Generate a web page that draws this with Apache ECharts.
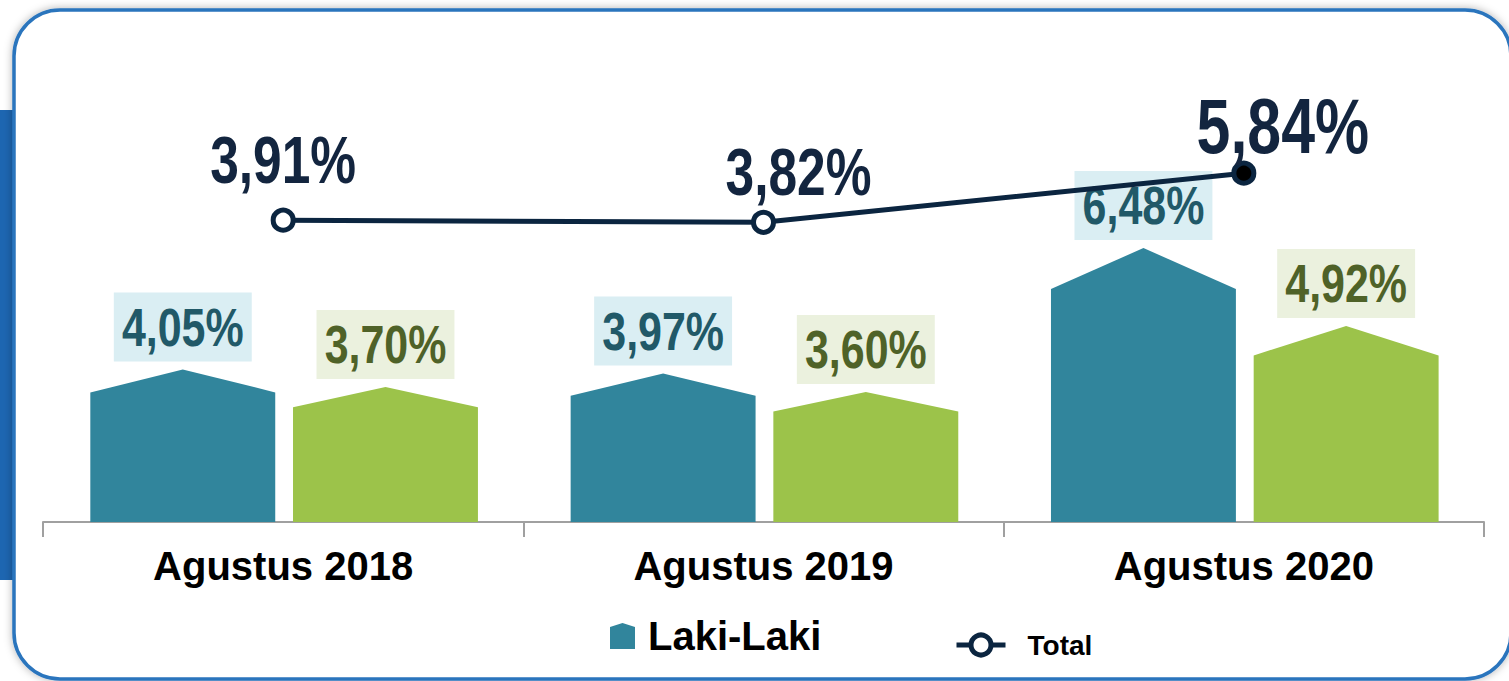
<!DOCTYPE html>
<html>
<head>
<meta charset="utf-8">
<style>
  html, body { margin: 0; padding: 0; background: #fff; }
  #chart { width: 1509px; height: 681px; }
</style>
<script src="https://cdn.jsdelivr.net/npm/echarts@6/dist/echarts.min.js"></script>
</head>
<body>
<div id="chart"></div>
<script>
/* data */
const categories = ['Agustus 2018', 'Agustus 2019', 'Agustus 2020'];
const lakiLaki = [4.05, 3.97, 6.48];
const perempuan = [3.70, 3.60, 4.92];
const total = [3.91, 3.82, 5.84];

const FONT = "'Liberation Sans', Arial, sans-serif";
const Y_MIN = 1;

// angka pakai koma
const fmt = v => v.toFixed(2).replace('.', ',') + '%';

// bentuk rumah: badan + atap (15% tinggi), label dipersempit (mirip Arial Narrow)
function houseItem(offset, color, labelColor, labelBg) {
    return function (params, api) {
        const i = api.value(0);
        const v = api.value(1);
        const top = api.coord([i, v]);
        const base = api.coord([i, Y_MIN]);
        const band = api.size([1, 0])[0];
        const w = band * 0.385;
        const cx = top[0] + band * offset;
        const h = base[1] - top[1];
        const roof = h * 0.15;
        return {
            type: 'group',
            children: [{
                type: 'polygon',
                shape: {
                    points: [
                        [cx - w / 2, base[1]],
                        [cx - w / 2, top[1] + roof],
                        [cx, top[1]],
                        [cx + w / 2, top[1] + roof],
                        [cx + w / 2, base[1]]
                    ]
                },
                style: { fill: color }
            }, {
                type: 'text',
                x: cx,
                y: top[1] - 8,
                scaleX: 0.81,
                style: {
                    text: fmt(v),
                    fill: labelColor,
                    font: 'bold 53px ' + FONT,
                    align: 'center',
                    verticalAlign: 'bottom',
                    backgroundColor: labelBg,
                    padding: [7, 10, 7, 10],
                    lineHeight: 55
                }
            }]
        };
    };
}

// label Total: ukuran & geser per titik
const totalLabelSize = [66, 66, 78];
const totalLabelOffset = [[0, -60], [35, -50], [39, -47]];

function totalLabelItem(params, api) {
    const i = api.value(0);
    const v = api.value(1);
    const p = api.coord([i, v]);
    const k = params.dataIndex;
    return {
        type: 'text',
        x: p[0] + totalLabelOffset[k][0],
        y: p[1] + totalLabelOffset[k][1],
        scaleX: 0.78,
        style: {
            text: fmt(v),
            fill: '#13253f',
            font: 'bold ' + totalLabelSize[k] + 'px ' + FONT,
            align: 'center',
            verticalAlign: 'middle'
        }
    };
}

var chart = echarts.init(document.getElementById('chart'), null, { renderer: 'svg' });

var option = {
    backgroundColor: '#fff',
    animation: false,
    graphic: [{
        type: 'rect',
        z: -20,
        shape: { x: 0, y: 110, width: 16, height: 470 },
        style: { fill: '#1d66b1' }
    }, {
        type: 'rect',
        z: -10,
        shape: { x: 14, y: 10, width: 1497, height: 669, r: 46 },
        style: {
            fill: '#fff',
            stroke: '#2a74bd',
            lineWidth: 3.5,
            shadowBlur: 8,
            shadowColor: 'rgba(0,0,0,0.3)'
        }
    }],
    legend: [{
        left: 605,
        top: 611,
        data: [{
            name: 'Laki-Laki',
            icon: 'path://M0,4 L12.5,0 L25,4 L25,26 L0,26 Z'
        }],
        itemWidth: 25,
        itemHeight: 26,
        textStyle: {
            color: '#000',
            fontSize: 40,
            fontWeight: 'bold',
            fontFamily: FONT,
            padding: [0, 0, 0, 8]
        }
    }, {
        left: 949,
        top: 626,
        data: ['Total'],
        itemWidth: 49,
        itemHeight: 25,
        lineStyle: { width: 5 },
        itemStyle: { borderWidth: 5 },
        textStyle: {
            color: '#000',
            fontSize: 28,
            fontWeight: 'bold',
            fontFamily: FONT,
            padding: [0, 0, 0, 17]
        }
    }],
    grid: {
        left: 43,
        right: 25,
        top: 72,
        bottom: 159
    },
    xAxis: {
        type: 'category',
        data: categories,
        boundaryGap: true,
        axisLine: {
            onZero: false,
            lineStyle: { color: '#a0a0a0', width: 2 }
        },
        axisTick: {
            show: true,
            alignWithLabel: false,
            interval: 0,
            length: 15,
            lineStyle: { color: '#a0a0a0', width: 2 }
        },
        axisLabel: {
            color: '#000',
            fontSize: 40,
            fontWeight: 'bold',
            fontFamily: FONT,
            margin: 24
        }
    },
    yAxis: [{
        type: 'value',
        min: Y_MIN,
        max: 10,
        show: false,
        splitLine: { show: false }
    }, {
        type: 'value',
        min: -8.5,
        max: 10,
        show: false,
        splitLine: { show: false }
    }],
    series: [{
        type: 'custom',
        name: 'Laki-Laki',
        itemStyle: { color: '#31859c' },
        encode: { x: 0, y: 1 },
        data: lakiLaki.map((v, i) => [i, v]),
        renderItem: houseItem(-0.209, '#31859c', '#215968', '#daeef3'),
        z: 2
    }, {
        type: 'custom',
        name: 'Perempuan',
        itemStyle: { color: '#9cc34a' },
        encode: { x: 0, y: 1 },
        data: perempuan.map((v, i) => [i, v]),
        renderItem: houseItem(0.213, '#9cc34a', '#4f6228', '#ebf1de'),
        z: 2
    }, {
        type: 'line',
        name: 'Total',
        yAxisIndex: 1,
        z: 5,
        symbol: 'circle',
        symbolSize: 20,
        lineStyle: { color: '#0b2540', width: 5 },
        itemStyle: { color: '#fff', borderColor: '#0b2540', borderWidth: 5 },
        data: total.map((v, i) => ({
            value: v,
            itemStyle: i === total.length - 1 ? { color: '#000', borderColor: '#0b2540', borderWidth: 5 } : undefined
        }))
    }, {
        type: 'custom',
        name: 'Total label',
        yAxisIndex: 1,
        z: 6,
        encode: { x: 0, y: 1 },
        data: total.map((v, i) => [i, v]),
        renderItem: totalLabelItem
    }]
};

chart.setOption(option);
</script>
</body>
</html>
